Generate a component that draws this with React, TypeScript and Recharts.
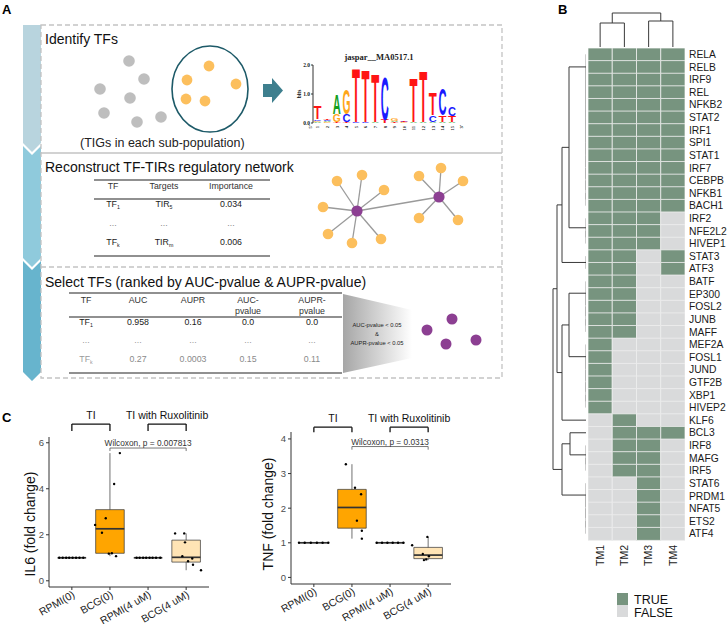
import React from "react";
import {
  BarChart,
  Bar,
  Cell,
  XAxis,
  YAxis,
  ScatterChart,
  Scatter,
  ReferenceLine,
  ReferenceArea,
  ReferenceDot,
} from "recharts";

const SANS = '"Liberation Sans", Arial, Helvetica, sans-serif';
const SERIF = '"Liberation Serif", "Times New Roman", serif';

// ---------- panel A sketches (sketch units, 1 unit = 10px)
const tigGrey: [number, number][] = [
  [3.9, 2.1], [5.4, 3.9], [1.0, 4.9], [4.0, 5.8], [1.4, 7.3], [4.7, 8.2], [7.1, 7.7],
];
const tigOrange: [number, number][] = [
  [11.9, 2.6], [9.7, 4.0], [14.6, 4.4], [9.6, 5.9], [11.5, 6.1],
];
const tigRing = { x: 12.0, y: 4.9, rx: 3.8, ry: 4.3 };

const netHubs: [number, number][] = [[4.7, 5.1], [12.9, 3.7]];
// x, y, hub it hangs off
const netLeaves: [number, number, number][] = [
  [2.7, 2.1, 0], [5.2, 1.5, 0], [7.4, 3.0, 0], [1.3, 4.7, 0], [1.8, 7.4, 0], [4.2, 8.3, 0], [7.1, 7.9, 0],
  [10.9, 1.6, 1], [13.1, 0.8, 1], [15.3, 2.1, 1], [10.9, 5.8, 1], [14.8, 6.0, 1],
];
const selectedTFs: [number, number][] = [[1.2, 2.5], [3.7, 1.4], [3.1, 3.9], [6.1, 3.5]];

// sequence logo jaspar__MA0517.1, letters bottom -> top
const logoLetters: string[][] = [
  ["A", "G", "C", "T"], ["G", "A", "C", "T"], ["T", "G", "A"], ["T", "C", "G"], ["C", "T"],
  ["C", "T"], ["A", "T"], ["T", "C"], ["T", "A", "G"], ["G", "C", "T"],
  ["A", "T"], ["A", "T"], ["A", "C", "T"], ["A", "T", "C"], ["A", "T", "C"],
];
const logoBits: number[][] = [
  [0.03, 0.05, 0.05, 0.45], [0.03, 0.03, 0.03, 0.04], [0.02, 0.28, 0.67], [0.02, 0.28, 0.86], [0.02, 1.88],
  [0.02, 1.86], [0.03, 1.71], [0.12, 1.53], [0.03, 0.05, 0.1], [0.02, 0.02, 0.05],
  [0.03, 1.58], [0.02, 1.78], [0.03, 0.24, 0.78], [0.02, 0.24, 0.9], [0.02, 0.22, 0.34],
];
const logoColors: Record<string, string> = { A: "#13a01e", C: "#1a1aff", G: "#ffa61a", T: "#ff1414" };

// ---------- panel B
const tfNames = [
  "RELA", "RELB", "IRF9", "REL", "NFKB2", "STAT2", "IRF1", "SPI1", "STAT1", "IRF7", "CEBPB", "NFKB1", "BACH1",
  "IRF2", "NFE2L2", "HIVEP1", "STAT3", "ATF3", "BATF", "EP300", "FOSL2", "JUNB", "MAFF",
  "MEF2A", "FOSL1", "JUND", "GTF2B", "XBP1", "HIVEP2", "KLF6", "BCL3", "IRF8", "MAFG", "IRF5",
  "STAT6", "PRDM1", "NFAT5", "ETS2", "ATF4",
];
const tmNames = ["TM1", "TM2", "TM3", "TM4"];
// TRUE/FALSE per TM1..TM4
const tfCalls = [
  "1111", "1111", "1111", "1111", "1111", "1111", "1111", "1111", "1111", "1111", "1111", "1111", "1111",
  "1110", "1110", "1110", "1101", "1101", "1100", "1100", "1100", "1100", "1100",
  "1000", "1000", "1000", "1000", "1000", "1000", "0100", "0111", "0110", "0110", "0110",
  "0010", "0010", "0010", "0010", "0010",
];
// blocks of identical rows (merge at height 0), then the merges above them
const rowGroupSizes = [13, 3, 2, 5, 6, 1, 1, 3, 5];
const rowMerges: [string, string, number][] = [
  ["g0", "g1", 17], ["m0", "g2", 24], ["g3", "g4", 17], ["m2", "g5", 24],
  ["m1", "m3", 29], ["g6", "g7", 16], ["m5", "g8", 24], ["m4", "m6", 33],
];
const colMerges: [string, string, number][] = [["g0", "g1", 24], ["g2", "g3", 26], ["m0", "m1", 34]];
const heatFill = { on: "#77947f", off: "#d9dadb" };

// ---------- panel C
const groupsC = ["RPMI(0)", "BCG(0)", "RPMI(4 uM)", "BCG(4 uM)"];
const boxFills = ["#ffffff", "#ffa500", "#ffffff", "#ffe4b5"];
// [x jitter, fold change]
const il6Points: [number, number][][] = [
  [[-0.33, 1], [-0.24, 1], [-0.15, 1], [-0.07, 1], [0.02, 1], [0.11, 1], [0.2, 1], [0.3, 1]],
  [[-0.39, 2.43], [-0.21, 2.09], [-0.11, 2.72], [0.11, 4.21], [0.26, 5.55], [0.05, 1.2], [0.16, 1.07], [-0.03, 1.18]],
  [[-0.3, 1], [-0.22, 1], [-0.13, 1], [-0.05, 1], [0.04, 1], [0.12, 1], [0.21, 1], [0.32, 1]],
  [[-0.29, 2.06], [-0.05, 2.06], [-0.03, 1.67], [-0.1, 1.07], [0.05, 0.85], [0.16, 0.97], [0.18, 0.7], [0.39, 0.46]],
];
const tnfPoints: [number, number][][] = [
  [[-0.39, 1], [-0.24, 1], [-0.08, 1], [0.08, 1], [0.23, 1], [0.38, 1]],
  [[-0.16, 3.27], [0.08, 2.59], [0.24, 2.4], [0.13, 1.64], [0.26, 1.35], [0.26, 1.12]],
  [[-0.35, 1], [-0.21, 1], [-0.07, 1], [0.07, 1], [0.21, 1], [0.35, 1]],
  [[-0.42, 0.93], [-0.02, 1.17], [-0.14, 0.68], [-0.11, 0.5], [0.02, 0.61], [-0.05, 0.52]],
];
const brackets = [
  { from: 1, to: 2, label: "TI" },
  { from: 3, to: 4, label: "TI with Ruxolitinib" },
];

const boxPanels = [
  {
    left: 0, top: 405, height: 219, axisH: 37, domain: [-0.27, 6.25], ticks: [0, 2, 4, 6],
    pts: il6Points, bracketY: 6.81, bracketDrop: 0.3, cmpY: 5.77, cmpDrop: 0.13,
    cmpLabel: "Wilcoxon, p = 0.007813",
  },
  {
    left: 242, top: 400, height: 224, axisH: 40, domain: [-0.19, 4.2], ticks: [0, 1, 2, 3, 4],
    pts: tnfPoints, bracketY: 4.34, bracketDrop: 0.15, cmpY: 3.78, cmpDrop: 0.09,
    cmpLabel: "Wilcoxon, p = 0.0313",
  },
];

// ---------- helpers
type Seg = { a: [number, number]; b: [number, number]; flat: boolean };

function dendroSegments(leaves: string[], groups: string[][], merges: [string, string, number][]): Seg[] {
  const pos: Record<string, number> = {};
  const hgt: Record<string, number> = {};
  leaves.forEach((l, i) => {
    pos[l] = i + 0.5;
    hgt[l] = 0;
  });
  const segs: Seg[] = [];
  const join = (id: string, l: string, r: string, h: number) => {
    if (h > 0) {
      segs.push({ a: [pos[l], hgt[l]], b: [pos[l], h], flat: false });
      segs.push({ a: [pos[r], hgt[r]], b: [pos[r], h], flat: false });
    }
    segs.push({ a: [pos[l], h], b: [pos[r], h], flat: h === 0 });
    pos[id] = (pos[l] + pos[r]) / 2;
    hgt[id] = h;
  };
  groups.forEach((g, gi) => {
    let cur = g[g.length - 1];
    for (let k = g.length - 2; k >= 0; k--) {
      const id = `g${gi}.${k}`;
      join(id, g[k], cur, 0);
      cur = id;
    }
    pos[`g${gi}`] = pos[cur];
    hgt[`g${gi}`] = 0;
  });
  merges.forEach(([l, r, h], i) => join(`m${i}`, l, r, h));
  return segs;
}

function quantile(s: number[], p: number) {
  const h = (s.length - 1) * p;
  const lo = Math.floor(h);
  const hi = Math.min(lo + 1, s.length - 1);
  return s[lo] + (h - lo) * (s[hi] - s[lo]);
}

function boxStats(vals: number[]) {
  const s = [...vals].sort((a, b) => a - b);
  const q1 = quantile(s, 0.25);
  const med = quantile(s, 0.5);
  const q3 = quantile(s, 0.75);
  const iqr = q3 - q1;
  const lo = s.find((v) => v >= q1 - 1.5 * iqr) ?? q1;
  const hi = [...s].reverse().find((v) => v <= q3 + 1.5 * iqr) ?? q3;
  return { q1, med, q3, lo, hi };
}

function UpTick(props: any) {
  const { x, y, payload, fmt, fs, family, weight } = props;
  return (
    <text
      x={x}
      y={y}
      dy="0.35em"
      textAnchor="end"
      fontSize={fs}
      fontFamily={family}
      fontWeight={weight}
      fill="#1a1a1a"
      transform={`rotate(-90, ${x}, ${y})`}
    >
      {fmt ? fmt(payload.value) : payload.value}
    </text>
  );
}

function SlantTick(props: any) {
  const { x, y, payload } = props;
  return (
    <text x={x} y={y} dy="0.72em" textAnchor="end" fontSize={10.5} fill="#1a1a1a" transform={`rotate(-30, ${x}, ${y})`}>
      {groupsC[payload.value - 1]}
    </text>
  );
}

const letterShape = (k: number) => (p: any) => {
  const ch = p.payload[`c${k}`];
  const { x, y, width, height } = p;
  if (!ch || !(height > 0.3)) return <g />;
  const fs = 10;
  return (
    <text
      transform={`translate(${x},${y + height}) scale(1,${height / (fs * 0.72)})`}
      fontSize={fs}
      fontWeight={700}
      fontFamily={SANS}
      textLength={width}
      lengthAdjust="spacingAndGlyphs"
      fill={logoColors[ch]}
    >
      {ch}
    </text>
  );
};

const zeroMargin = { top: 0, right: 0, bottom: 0, left: 0 };
const dotShape = (p: any) => <circle cx={p.cx} cy={p.cy} r={p.payload.r} fill={p.payload.c} />;

function TigSketch() {
  const ppu = 10;
  const dots = [
    ...tigGrey.map(([x, y]) => ({ x, y, r: 5.8, c: "#bebebe" })),
    ...tigOrange.map(([x, y]) => ({ x, y, r: 5.4, c: "#fcbf5d" })),
  ];
  return (
    <div style={{ position: "absolute", left: 90, top: 40 }}>
      <ScatterChart width={170} height={100} margin={zeroMargin}>
        <XAxis type="number" dataKey="x" domain={[0, 17]} hide allowDataOverflow />
        <YAxis type="number" dataKey="y" domain={[0, 10]} reversed hide allowDataOverflow />
        <Scatter
          data={[tigRing]}
          isAnimationActive={false}
          shape={(p: any) => (
            <ellipse cx={p.cx} cy={p.cy} rx={tigRing.rx * ppu} ry={tigRing.ry * ppu} fill="none" stroke="#1d5a68" strokeWidth={1.6} />
          )}
        />
        <Scatter data={dots} isAnimationActive={false} shape={dotShape} />
      </ScatterChart>
    </div>
  );
}

function NetSketch() {
  const nodes = [
    ...netLeaves.map(([x, y]) => ({ x, y, r: 5.3, c: "#fcbf5d" })),
    ...netHubs.map(([x, y]) => ({ x, y, r: 5.6, c: "#8c3f92" })),
  ];
  return (
    <div style={{ position: "absolute", left: 310, top: 160 }}>
      <ScatterChart width={165} height={95} margin={zeroMargin}>
        <XAxis type="number" dataKey="x" domain={[0, 16.5]} hide allowDataOverflow />
        <YAxis type="number" dataKey="y" domain={[0, 9.5]} reversed hide allowDataOverflow />
        <ReferenceLine
          segment={[{ x: netHubs[0][0], y: netHubs[0][1] }, { x: netHubs[1][0], y: netHubs[1][1] }]}
          stroke="#9a9a9a"
          strokeWidth={1.3}
          ifOverflow="visible"
        />
        {netLeaves.map(([x, y, h], i) => (
          <ReferenceLine
            key={i}
            segment={[{ x: netHubs[h][0], y: netHubs[h][1] }, { x, y }]}
            stroke="#9a9a9a"
            strokeWidth={1.3}
            ifOverflow="visible"
          />
        ))}
        <Scatter data={nodes} isAnimationActive={false} shape={dotShape} zIndex={700} />
      </ScatterChart>
    </div>
  );
}

function SelectedSketch() {
  const nodes = selectedTFs.map(([x, y]) => ({ x, y, r: 5.5, c: "#8c3f92" }));
  return (
    <div style={{ position: "absolute", left: 415, top: 305 }}>
      <ScatterChart width={70} height={50} margin={zeroMargin}>
        <XAxis type="number" dataKey="x" domain={[0, 7]} hide allowDataOverflow />
        <YAxis type="number" dataKey="y" domain={[0, 5]} reversed hide allowDataOverflow />
        <Scatter data={nodes} isAnimationActive={false} shape={dotShape} />
      </ScatterChart>
    </div>
  );
}

function SeqLogo() {
  const rows = logoLetters.map((ls, i) => {
    const r: Record<string, any> = { pos: i + 1 };
    for (let k = 0; k < 4; k++) {
      r[`h${k}`] = logoBits[i][k] ?? 0;
      r[`c${k}`] = ls[k] ?? "";
    }
    return r;
  });
  return (
    <div style={{ position: "absolute", left: 288, top: 50 }}>
      <BarChart width={172} height={88} data={rows} margin={{ top: 15, right: 3, bottom: 0, left: 0 }} barCategoryGap="6%">
        <XAxis
          dataKey="pos"
          height={15}
          axisLine={false}
          tickLine={false}
          tickSize={0}
          tickMargin={3}
          interval={0}
          tick={<UpTick fs={4.6} family={SERIF} weight={700} />}
        />
        <YAxis
          domain={[0, 2]}
          ticks={[0, 1, 2]}
          width={25}
          tickFormatter={(v: number) => v.toFixed(1)}
          tickSize={2}
          tickMargin={1}
          stroke="#333"
          tick={{ fontSize: 5.5, fontFamily: SERIF, fontWeight: 700, fill: "#222" }}
          allowDataOverflow
        />
        {[0, 1, 2, 3].map((k) => (
          <Bar key={k} dataKey={`h${k}`} stackId="logo" isAnimationActive={false} shape={letterShape(k)} />
        ))}
      </BarChart>
    </div>
  );
}

function Dendro(props: {
  left: number; top: number; width: number; height: number; segs: Seg[]; rows: boolean; posMax: number; hMax: number;
}) {
  const { left, top, width, height, segs, rows, posMax, hMax } = props;
  const pt = (p: [number, number]) => (rows ? { x: p[1], y: p[0] } : { x: p[0], y: p[1] });
  return (
    <div style={{ position: "absolute", left, top }}>
      <ScatterChart width={width} height={height} margin={zeroMargin}>
        <XAxis type="number" dataKey="x" hide domain={rows ? [0, hMax] : [0, posMax]} reversed={rows} allowDataOverflow />
        <YAxis type="number" dataKey="y" hide domain={rows ? [0, posMax] : [0, hMax]} reversed={rows} allowDataOverflow />
        <Scatter data={[{ x: 0, y: 0 }]} isAnimationActive={false} shape={() => <g />} />
        {segs.map((s, i) => (
          <ReferenceLine
            key={i}
            segment={[pt(s.a), pt(s.b)]}
            stroke={s.flat ? "#9a9a9a" : "#3a3a3a"}
            strokeWidth={1}
            ifOverflow="visible"
          />
        ))}
      </ScatterChart>
    </div>
  );
}

function Heatmap() {
  const rows = tfNames.map((tf, i) => ({ tf, s0: 1, s1: 1, s2: 1, s3: 1, on: tfCalls[i] }));
  return (
    <div style={{ position: "absolute", left: 588, top: 48 }}>
      <BarChart layout="vertical" width={140} height={527} data={rows} margin={zeroMargin} barCategoryGap={0} barGap={0}>
        <XAxis
          type="number"
          domain={[0, 4]}
          ticks={[0.5, 1.5, 2.5, 3.5]}
          height={35}
          axisLine={false}
          tickLine={false}
          tickSize={0}
          tickMargin={5}
          interval={0}
          tick={<UpTick fs={10.5} family={SANS} fmt={(v: number) => tmNames[Math.floor(v)]} />}
          allowDataOverflow
        />
        <YAxis
          type="category"
          dataKey="tf"
          orientation="right"
          width={43}
          axisLine={false}
          tickLine={false}
          tickSize={0}
          tickMargin={4}
          interval={0}
          tick={{ fontSize: 10.3, fill: "#1a1a1a" }}
        />
        {tmNames.map((tm, j) => (
          <Bar key={tm} dataKey={`s${j}`} stackId="tm" isAnimationActive={false}>
            {rows.map((r, i) => (
              <Cell key={i} fill={r.on[j] === "1" ? heatFill.on : heatFill.off} stroke="#eeeeee" strokeWidth={0.8} />
            ))}
          </Bar>
        ))}
      </BarChart>
    </div>
  );
}

function BoxPanel({ cfg }: { cfg: (typeof boxPanels)[number] }) {
  const stats = cfg.pts.map((g) => boxStats(g.map((p) => p[1])));
  const dots = cfg.pts.flatMap((g, i) => g.map(([dx, v]) => ({ x: i + 1 + dx, y: v })));
  const hw = 0.375;
  const ink = "#333333";
  return (
    <div style={{ position: "absolute", left: cfg.left, top: cfg.top }}>
      <ScatterChart width={215} height={cfg.height} margin={{ top: 32, right: 6, bottom: 0, left: 0 }}>
        <XAxis
          type="number"
          dataKey="x"
          domain={[0.4, 4.6]}
          ticks={[1, 2, 3, 4]}
          interval={0}
          height={cfg.axisH}
          stroke={ink}
          tickSize={3}
          tickMargin={0}
          tick={<SlantTick />}
          allowDataOverflow
        />
        <YAxis
          type="number"
          dataKey="y"
          domain={cfg.domain}
          ticks={cfg.ticks}
          interval={0}
          width={49}
          stroke={ink}
          tickSize={3}
          tickMargin={2}
          tick={{ fontSize: 9.5, fill: "#4d4d4d" }}
          allowDataOverflow
        />
        {stats.map((s, i) => (
          <ReferenceLine key={`wu${i}`} segment={[{ x: i + 1, y: s.q3 }, { x: i + 1, y: s.hi }]} stroke={ink} strokeWidth={0.7} ifOverflow="visible" />
        ))}
        {stats.map((s, i) => (
          <ReferenceLine key={`wl${i}`} segment={[{ x: i + 1, y: s.lo }, { x: i + 1, y: s.q1 }]} stroke={ink} strokeWidth={0.7} ifOverflow="visible" />
        ))}
        {stats.map((s, i) => (
          <ReferenceArea
            key={`b${i}`}
            x1={i + 1 - hw}
            x2={i + 1 + hw}
            y1={s.q1}
            y2={s.q3}
            fill={boxFills[i]}
            fillOpacity={1}
            stroke={ink}
            strokeWidth={0.7}
            ifOverflow="visible"
            zIndex={150}
          />
        ))}
        {stats.map((s, i) => (
          <ReferenceLine
            key={`m${i}`}
            segment={[{ x: i + 1 - hw, y: s.med }, { x: i + 1 + hw, y: s.med }]}
            stroke={ink}
            strokeWidth={1.7}
            ifOverflow="visible"
            zIndex={450}
          />
        ))}
        {brackets.map((b) => (
          <ReferenceLine
            key={`bh${b.label}`}
            segment={[{ x: b.from, y: cfg.bracketY }, { x: b.to, y: cfg.bracketY }]}
            stroke="#111"
            strokeWidth={1.3}
            ifOverflow="visible"
          />
        ))}
        {brackets.flatMap((b) =>
          [b.from, b.to].map((x) => (
            <ReferenceLine
              key={`bt${b.label}${x}`}
              segment={[{ x, y: cfg.bracketY }, { x, y: cfg.bracketY - cfg.bracketDrop }]}
              stroke="#111"
              strokeWidth={1.3}
              ifOverflow="visible"
            />
          )),
        )}
        {brackets.map((b) => (
          <ReferenceDot
            key={`bl${b.label}`}
            x={(b.from + b.to) / 2}
            y={cfg.bracketY}
            r={0}
            fill="none"
            stroke="none"
            ifOverflow="visible"
            label={{ value: b.label, position: "top", offset: 5, fontSize: 10.5, fill: "#111" }}
          />
        ))}
        <ReferenceLine segment={[{ x: 2, y: cfg.cmpY }, { x: 4, y: cfg.cmpY }]} stroke="#555" strokeWidth={0.8} ifOverflow="visible" />
        {[2, 4].map((x) => (
          <ReferenceLine
            key={`ct${x}`}
            segment={[{ x, y: cfg.cmpY }, { x, y: cfg.cmpY - cfg.cmpDrop }]}
            stroke="#555"
            strokeWidth={0.8}
            ifOverflow="visible"
          />
        ))}
        <ReferenceDot
          x={3}
          y={cfg.cmpY}
          r={0}
          fill="none"
          stroke="none"
          ifOverflow="visible"
          label={{ value: cfg.cmpLabel, position: "top", offset: 2, fontSize: 8.3, fill: "#333" }}
        />
        <Scatter
          data={dots}
          isAnimationActive={false}
          zIndex={700}
          shape={(p: any) => <circle cx={p.cx} cy={p.cy} r={1.2} fill="#000" />}
        />
      </ScatterChart>
    </div>
  );
}

function Sub({ x, y, base, sub, fill = "#1a1a1a", fs = 8.8 }: any) {
  return (
    <text x={x} y={y} textAnchor="middle" fontSize={fs} fill={fill}>
      {base}
      {sub ? (
        <tspan fontSize={fs * 0.6} dy={1.5}>
          {sub}
        </tspan>
      ) : null}
    </text>
  );
}

function Schematic() {
  const box = "#c3c3c3";
  const netCols = [113, 164, 231];
  const selCols = [86, 138, 193, 248, 312];
  return (
    <svg width={727} height={624} style={{ position: "absolute", left: 0, top: 0 }} fontFamily={SANS}>
      <defs>
        <linearGradient id="funnel" x1="0" x2="1" y1="0" y2="0">
          <stop offset="0" stopColor="#a6a6a6" />
          <stop offset="1" stopColor="#ffffff" />
        </linearGradient>
      </defs>
      <text x={2} y={14} fontSize={13} fontWeight={700}>A</text>
      <text x={558} y={14} fontSize={13} fontWeight={700}>B</text>
      <text x={2} y={422} fontSize={13} fontWeight={700}>C</text>

      <polygon points="23,25 41,25 41,143 32,152 23,143" fill="#b8d4de" />
      <polygon points="23,146 32,155 41,146 41,258 32,267 23,258" fill="#8fcadc" />
      <polygon points="23,261 32,270 41,261 41,372 32,381 23,372" fill="#67b4cd" />

      <rect x={41} y={25} width={461} height={353} fill="none" stroke={box} strokeWidth={1.3} strokeDasharray="5 3" />
      <line x1={41} x2={502} y1={153} y2={153} stroke={box} strokeWidth={1.3} />
      <line x1={41} x2={502} y1={267} y2={267} stroke={box} strokeWidth={1.3} strokeDasharray="5 3" />

      <text x={45} y={44} fontSize={14} fill="#111">Identify TFs</text>
      <text x={45} y={172} fontSize={14} fill="#111">Reconstruct TF-TIRs regulatory network</text>
      <text x={45} y={287} fontSize={14} fill="#111">Select TFs (ranked by AUC-pvalue &amp; AUPR-pvalue)</text>
      <text x={80} y={147} fontSize={12.5} fill="#222">(TIGs in each sub-population)</text>

      <polygon points="263,84 272,84 272,78 283,90.5 272,103 272,97 263,97" fill="#3e7f8e" />

      <text x={379} y={60} textAnchor="middle" fontFamily={SERIF} fontWeight={700} fontSize={8.5} fill="#222">
        jaspar__MA0517.1
      </text>
      <text transform="translate(301,94) rotate(-90)" textAnchor="middle" fontFamily={SERIF} fontWeight={700} fontSize={5.5}>
        bits
      </text>
      <text transform="translate(310,125) rotate(-90)" textAnchor="end" dy="0.35em" fontFamily={SERIF} fontWeight={700} fontSize={4.6}>
        5'
      </text>
      <text transform="translate(461,125) rotate(-90)" textAnchor="end" dy="0.35em" fontFamily={SERIF} fontWeight={700} fontSize={4.6}>
        3'
      </text>

      {/* network table */}
      <line x1={94} x2={270} y1={180} y2={180} stroke="#222" strokeWidth={1.2} />
      <line x1={94} x2={270} y1={199} y2={199} stroke="#222" strokeWidth={1.2} />
      <line x1={94} x2={270} y1={256} y2={256} stroke="#222" strokeWidth={1.2} />
      {["TF", "Targets", "Importance"].map((t, i) => (
        <Sub key={t} x={netCols[i]} y={189} base={t} fill="#333" />
      ))}
      <Sub x={netCols[0]} y={207} base="TF" sub="1" />
      <Sub x={netCols[1]} y={207} base="TIR" sub="5" />
      <Sub x={netCols[2]} y={207} base="0.034" />
      {netCols.map((x) => (
        <Sub key={x} x={x} y={226} base="..." fill="#888" />
      ))}
      <Sub x={netCols[0]} y={245} base="TF" sub="k" />
      <Sub x={netCols[1]} y={245} base="TIR" sub="m" />
      <Sub x={netCols[2]} y={245} base="0.006" />

      {/* selection table */}
      <line x1={69} x2={342} y1={293} y2={293} stroke="#222" strokeWidth={1.2} />
      <line x1={69} x2={342} y1={317} y2={317} stroke="#222" strokeWidth={1.2} />
      <line x1={69} x2={342} y1={373} y2={373} stroke="#222" strokeWidth={1.2} />
      {["TF", "AUC", "AUPR", "AUC-", "AUPR-"].map((t, i) => (
        <Sub key={t} x={selCols[i]} y={303} base={t} fill="#333" />
      ))}
      <Sub x={selCols[3]} y={314} base="pvalue" fill="#333" />
      <Sub x={selCols[4]} y={314} base="pvalue" fill="#333" />
      <Sub x={selCols[0]} y={325} base="TF" sub="1" />
      {["0.958", "0.16", "0.0", "0.0"].map((t, i) => (
        <Sub key={i} x={selCols[i + 1]} y={325} base={t} />
      ))}
      {selCols.map((x) => (
        <Sub key={x} x={x} y={343} base="..." fill="#999" />
      ))}
      <Sub x={selCols[0]} y={362} base="TF" sub="k" fill="#9a9a9a" />
      {["0.27", "0.0003", "0.15", "0.11"].map((t, i) => (
        <Sub key={i} x={selCols[i + 1]} y={362} base={t} fill="#8a8a8a" />
      ))}

      <polygon points="343,294 412,310 412,358 343,373" fill="url(#funnel)" />
      <text x={377} y={327} textAnchor="middle" fontSize={5.8} fill="#222">AUC-pvalue &lt; 0.05</text>
      <text x={377} y={336} textAnchor="middle" fontSize={5.8} fill="#222">&amp;</text>
      <text x={377} y={345} textAnchor="middle" fontSize={5.8} fill="#222">AUPR-pvalue &lt; 0.05</text>

      {/* heatmap legend */}
      <rect x={617} y={593} width={11} height={12} fill={heatFill.on} />
      <rect x={617} y={605} width={11} height={12} fill={heatFill.off} />
      <text x={634} y={604} fontSize={12.5} fill="#111">TRUE</text>
      <text x={634} y={617} fontSize={12.5} fill="#111">FALSE</text>

      {/* box plot y titles */}
      <text transform="translate(35,524) rotate(-90)" textAnchor="middle" fontSize={14} fill="#111">IL6 (fold change)</text>
      <text transform="translate(273,514) rotate(-90)" textAnchor="middle" fontSize={14} fill="#111">TNF (fold change)</text>
    </svg>
  );
}

export default function App() {
  const rowGroups: string[][] = [];
  let start = 0;
  rowGroupSizes.forEach((n) => {
    rowGroups.push(tfNames.slice(start, start + n));
    start += n;
  });
  const rowSegs = dendroSegments(tfNames, rowGroups, rowMerges);
  const colSegs = dendroSegments(tmNames, tmNames.map((t) => [t]), colMerges);

  return (
    <div
      style={{
        position: "absolute",
        left: 0,
        top: 0,
        width: 727,
        height: 624,
        background: "#fff",
        overflow: "hidden",
        fontFamily: SANS,
      }}
    >
      <Schematic />
      <TigSketch />
      <SeqLogo />
      <NetSketch />
      <SelectedSketch />
      <Dendro left={588} top={10} width={97} height={37} segs={colSegs} rows={false} posMax={4} hMax={37} />
      <Dendro left={546} top={48} width={40} height={492} segs={rowSegs} rows posMax={39} hMax={40} />
      <Heatmap />
      {boxPanels.map((cfg, i) => (
        <BoxPanel key={i} cfg={cfg} />
      ))}
    </div>
  );
}
